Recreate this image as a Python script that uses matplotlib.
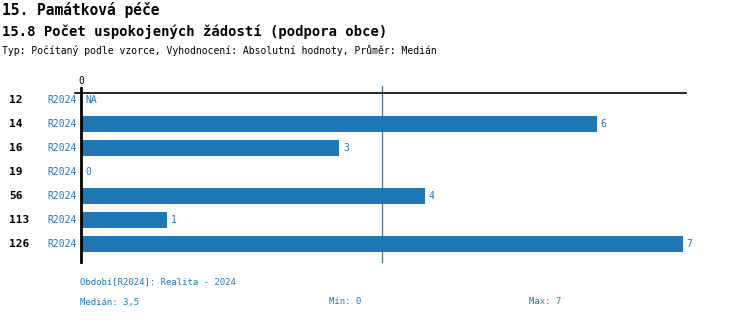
import numpy as np
import matplotlib
matplotlib.use("Agg")
import matplotlib.pyplot as plt

# data
row_ids = ["12", "14", "16", "19", "56", "113", "126"]
periods = ["R2024"] * 7
values = [np.nan, 6, 3, 0, 4, 1, 7]
median_val = 3.5
min_val = 0
max_val = 7

BLUE = "#1f77b4"
MONO = "DejaVu Sans Mono"

fig = plt.figure(figsize=(7.5, 3.2), dpi=100)
W, H = 750, 320

# axes placed in pixels: x 81..686, y 93..262
ax = fig.add_axes([81 / W, 1 - 262 / H, 605 / W, 169 / H])
ax.set_xlim(0, 7.04)
ax.set_ylim(6.75, -0.29)
for s in ax.spines.values():
    s.set_visible(False)
ax.set_xticks([])
ax.set_yticks([])

y = np.arange(len(row_ids))
vals = np.array(values, dtype=float)
ax.barh(y, np.nan_to_num(vals), height=0.67, color=BLUE, zorder=2)

# value labels
for yi, v in zip(y, vals):
    txt = "NA" if np.isnan(v) else str(int(v))
    xv = 0 if np.isnan(v) else v
    ax.annotate(txt, (xv, yi), xytext=(3, 0), textcoords="offset points",
                va="center", ha="left", color=BLUE, fontsize=7, family=MONO)

# row labels
for yi, rid, per in zip(y, row_ids, periods):
    ax.annotate(rid, (0, yi), xycoords=("axes fraction", "data"),
                xytext=(-72, 0), textcoords="offset pixels",
                va="center", ha="left", fontsize=8, fontweight="bold", family=MONO)
    ax.annotate(per, (0, yi), xycoords=("axes fraction", "data"),
                xytext=(-4, 0), textcoords="offset pixels",
                va="center", ha="right", fontsize=7, color=BLUE, family=MONO)

# axis lines
ax.plot([0, 0], [1.03, 0], transform=ax.get_xaxis_transform(), color="black", lw=2,
        clip_on=False, zorder=3)
ax.plot([-6 / 605, 1], [1, 1], transform=ax.transAxes, color="black", lw=1.2,
        clip_on=False, zorder=3)
ax.plot([median_val, median_val], [1.04, 0], transform=ax.get_xaxis_transform(),
        color="#4a6e8a", lw=0.9, clip_on=False, zorder=1)
ax.text(0, (262 - 81) / 169, "0", transform=ax.get_xaxis_transform(), ha="center",
        va="center", fontsize=7, family=MONO)

# titles
fig.text(2 / W, 1 - 10 / H, "15. Památková péče", fontsize=10.5, fontweight="bold",
         family=MONO, va="center")
fig.text(2 / W, 1 - 32 / H, "15.8 Počet uspokojených žádostí (podpora obce)",
         fontsize=10, fontweight="bold", family=MONO, va="center")
fig.text(2 / W, 1 - 50 / H,
         "Typ: Počítaný podle vzorce, Vyhodnocení: Absolutní hodnoty, Průměr: Medián",
         fontsize=7, family=MONO, va="center")

# footer
fig.text(80 / W, 1 - 282 / H, "Období[R2024]: Realita - 2024", fontsize=6.5,
         family=MONO, color=BLUE, va="center")
fig.text(80 / W, 1 - 302 / H, "Medián: " + str(median_val).replace(".", ","),
         fontsize=6.5, family=MONO, color=BLUE, va="center")
fig.text(329 / W, 1 - 302 / H, f"Min: {min_val}", fontsize=6.5, family=MONO,
         color=BLUE, va="center")
fig.text(529 / W, 1 - 302 / H, f"Max: {max_val}", fontsize=6.5, family=MONO,
         color=BLUE, va="center")

fig.savefig("out.png", dpi=100)
